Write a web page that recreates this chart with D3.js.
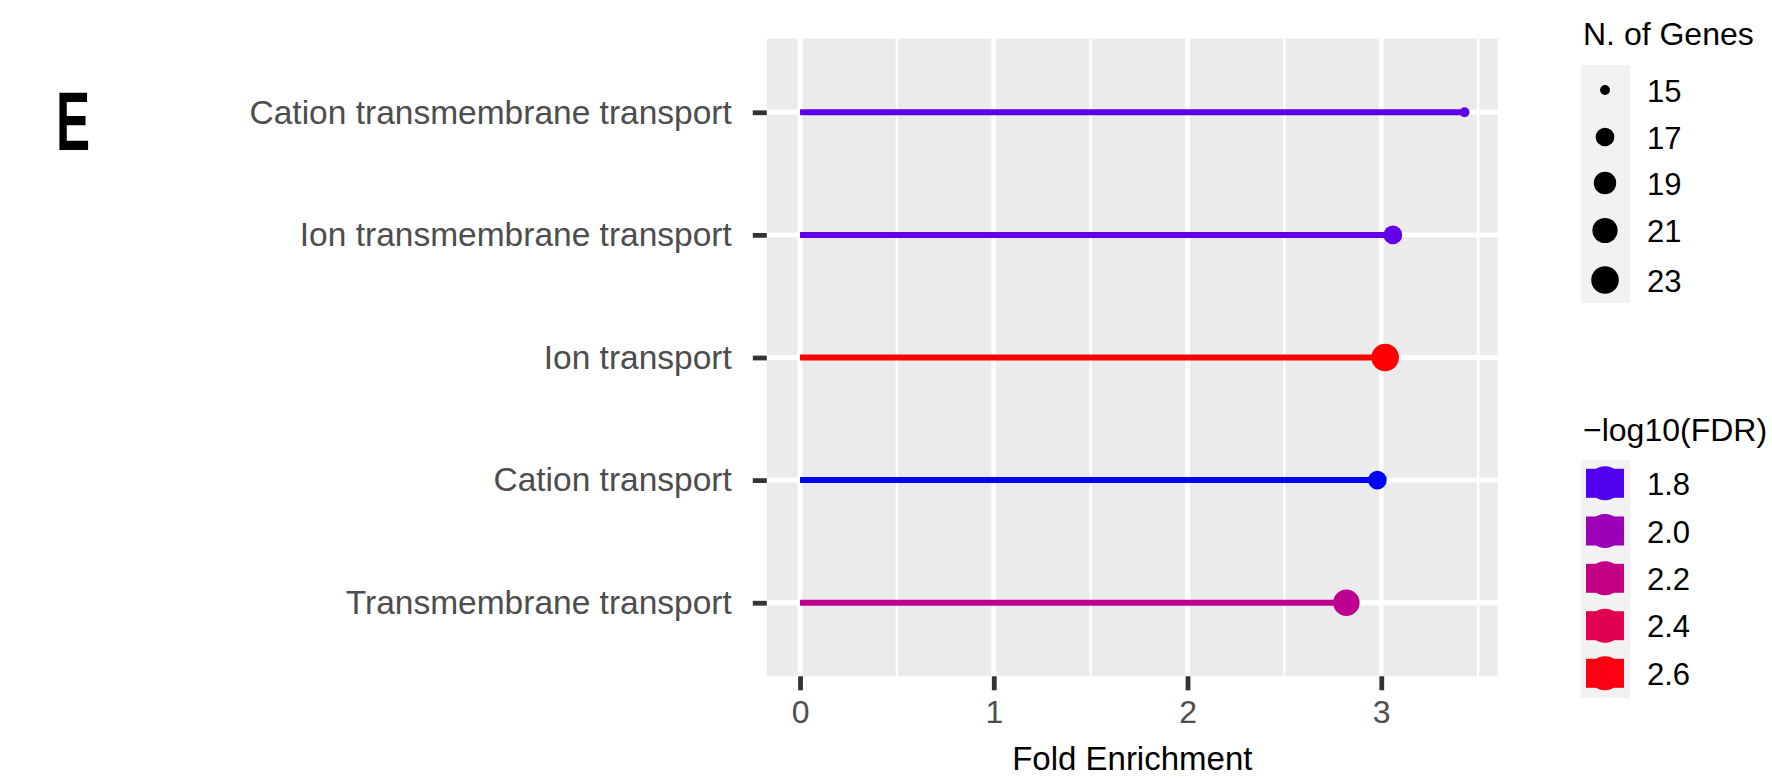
<!DOCTYPE html>
<html>
<head>
<meta charset="utf-8">
<script src="https://cdn.jsdelivr.net/npm/d3@7"></script>
<style>
  html, body { margin: 0; padding: 0; background: #ffffff; }
  svg { display: block; }
  text { font-family: "Liberation Sans", Arial, Helvetica, sans-serif; }
</style>
</head>
<body>
<svg id="chart" width="1772" height="778"></svg>
<script>
// ---- data ----
const categories = [
  "Cation transmembrane transport",
  "Ion transmembrane transport",
  "Ion transport",
  "Cation transport",
  "Transmembrane transport"
];
const foldEnrichment = [3.43, 3.06, 3.02, 2.98, 2.82];
const nGenes = [15, 17, 23, 17, 22];
const negLog10FDR = [1.82, 1.83, 2.63, 1.74, 2.15];
const xTicks = [0, 1, 2, 3];
const xMinorTicks = [0.5, 1.5, 2.5, 3.5];
const sizeBreaks = [15, 17, 19, 21, 23];
const colorBreaks = [1.8, 2.0, 2.2, 2.4, 2.6];
const xTickLabels = ["0", "1", "2", "3"];
const panelLabel = "E";
const xTitle = "Fold Enrichment";
const sizeTitle = "N. of Genes";
const colorTitle = "\u2212log10(FDR)";

const rows = categories.map((c, i) => ({
  cat: c, fe: foldEnrichment[i], n: nGenes[i], fdr: negLog10FDR[i]
}));

// ---- layout ----
const panel = { left: 766.8, right: 1497.8, top: 38.7, bottom: 676.3 };
const svg = d3.select("#chart");

const maxFE = d3.max(foldEnrichment);
const x = d3.scaleLinear()
  .domain([0 - 0.05 * maxFE, maxFE + 0.05 * maxFE])
  .range([panel.left, panel.right]);
const y = d3.scalePoint()
  .domain(categories)
  .range([panel.top, panel.bottom])
  .padding(0.6);

const fdrExtent = d3.extent(negLog10FDR);
const color = d3.scaleLinear()
  .domain(fdrExtent)
  .range(["#0000ff", "#ff0000"])
  .interpolate(d3.interpolateLab);

const nExtent = d3.extent(nGenes);
const rPow = d3.scalePow().exponent(0.5)
  .domain([0, nExtent[1] - nExtent[0]])
  .range([4.9, 13.8]);
const r = v => rPow(Math.max(0, v - nExtent[0]));

// ---- panel background ----
svg.append("rect")
  .attr("x", panel.left).attr("y", panel.top)
  .attr("width", panel.right - panel.left)
  .attr("height", panel.bottom - panel.top)
  .attr("fill", "#ebebeb");

const grid = svg.append("g");
grid.selectAll("line.minor").data(xMinorTicks.filter(t => x(t) < panel.right)).join("line")
  .attr("x1", d => x(d)).attr("x2", d => x(d))
  .attr("y1", panel.top).attr("y2", panel.bottom)
  .attr("stroke", "#ffffff").attr("stroke-width", 2.4);
grid.selectAll("line.majx").data(xTicks).join("line")
  .attr("x1", d => x(d)).attr("x2", d => x(d))
  .attr("y1", panel.top).attr("y2", panel.bottom)
  .attr("stroke", "#ffffff").attr("stroke-width", 4.8);
grid.selectAll("line.majy").data(categories).join("line")
  .attr("x1", panel.left).attr("x2", panel.right)
  .attr("y1", d => y(d)).attr("y2", d => y(d))
  .attr("stroke", "#ffffff").attr("stroke-width", 4.8);

// ---- lollipops ----
const marks = svg.append("g");
marks.selectAll("line.seg").data(rows).join("line")
  .attr("x1", x(0)).attr("x2", d => x(d.fe))
  .attr("y1", d => y(d.cat)).attr("y2", d => y(d.cat))
  .attr("stroke", d => color(d.fdr)).attr("stroke-width", 6);
marks.selectAll("circle").data(rows).join("circle")
  .attr("cx", d => x(d.fe)).attr("cy", d => y(d.cat))
  .attr("r", d => r(d.n))
  .attr("fill", d => color(d.fdr));

// ---- axes ----
const xAxis = d3.axisBottom(x).tickValues(xTicks)
  .tickFormat((d, i) => xTickLabels[i]).tickSize(14).tickPadding(10);
const gx = svg.append("g").attr("transform", `translate(0,${panel.bottom})`).call(xAxis);
gx.select(".domain").remove();
gx.selectAll(".tick line").attr("stroke", "#333333").attr("stroke-width", 4.8);
gx.selectAll(".tick text").attr("fill", "#4d4d4d").attr("font-size", 32)
  .attr("font-family", "Liberation Sans, Arial, sans-serif");

const yAxis = d3.axisLeft(y).tickSize(14).tickPadding(21);
const gy = svg.append("g").attr("transform", `translate(${panel.left},0)`).call(yAxis);
gy.select(".domain").remove();
gy.selectAll(".tick line").attr("stroke", "#333333").attr("stroke-width", 4.8);
gy.selectAll(".tick text").attr("fill", "#4d4d4d").attr("font-size", 33.5)
  .attr("font-family", "Liberation Sans, Arial, sans-serif");

svg.append("text")
  .attr("x", (panel.left + panel.right) / 2).attr("y", 770)
  .attr("text-anchor", "middle").attr("font-size", 33).attr("fill", "#000")
  .text(xTitle);

// ---- panel label ----
svg.append("text")
  .attr("transform", "translate(56,150) scale(0.7,1.13)")
  .attr("font-family", "DejaVu Sans Condensed, DejaVu Sans, sans-serif")
  .attr("font-weight", "bold").attr("font-size", 73).attr("fill", "#000")
  .text(panelLabel);

// ---- size legend ----
const sizeKeyY = [90, 137, 183, 230.5, 280];
const lg1 = svg.append("g");
lg1.append("text").attr("x", 1583).attr("y", 45).attr("font-size", 32).attr("fill", "#000").text(sizeTitle);
lg1.append("rect").attr("x", 1581).attr("y", 65).attr("width", 49).attr("height", 238).attr("fill", "#f2f2f2");
lg1.selectAll("circle").data(sizeBreaks).join("circle")
  .attr("cx", 1605).attr("cy", (d, i) => sizeKeyY[i]).attr("r", d => r(d)).attr("fill", "#000");
lg1.selectAll("text.lab").data(sizeBreaks).join("text").attr("class", "lab")
  .attr("x", 1647).attr("y", (d, i) => sizeKeyY[i] + 11.5)
  .attr("font-size", 31).attr("fill", "#000").text(d => d);

// ---- colour legend ----
const colKeyY = [483.3, 531, 578.3, 625.7, 673.3];
const lg2 = svg.append("g");
lg2.append("text").attr("x", 1583).attr("y", 441).attr("font-size", 32).attr("fill", "#000").text(colorTitle);
lg2.append("rect").attr("x", 1581).attr("y", 460).attr("width", 49).attr("height", 238).attr("fill", "#f2f2f2");
const keys = lg2.selectAll("g.key").data(colorBreaks).join("g").attr("class", "key")
  .attr("transform", (d, i) => `translate(1605,${colKeyY[i]})`);
keys.append("rect").attr("x", -19).attr("y", -14.5).attr("width", 38).attr("height", 29)
  .attr("fill", d => color(d));
keys.append("circle").attr("r", 17).attr("fill", d => color(d));
lg2.selectAll("text.lab").data(colorBreaks).join("text").attr("class", "lab")
  .attr("x", 1647).attr("y", (d, i) => colKeyY[i] + 11.5)
  .attr("font-size", 31).attr("fill", "#000").text(d => d.toFixed(1));
</script>
</body>
</html>
